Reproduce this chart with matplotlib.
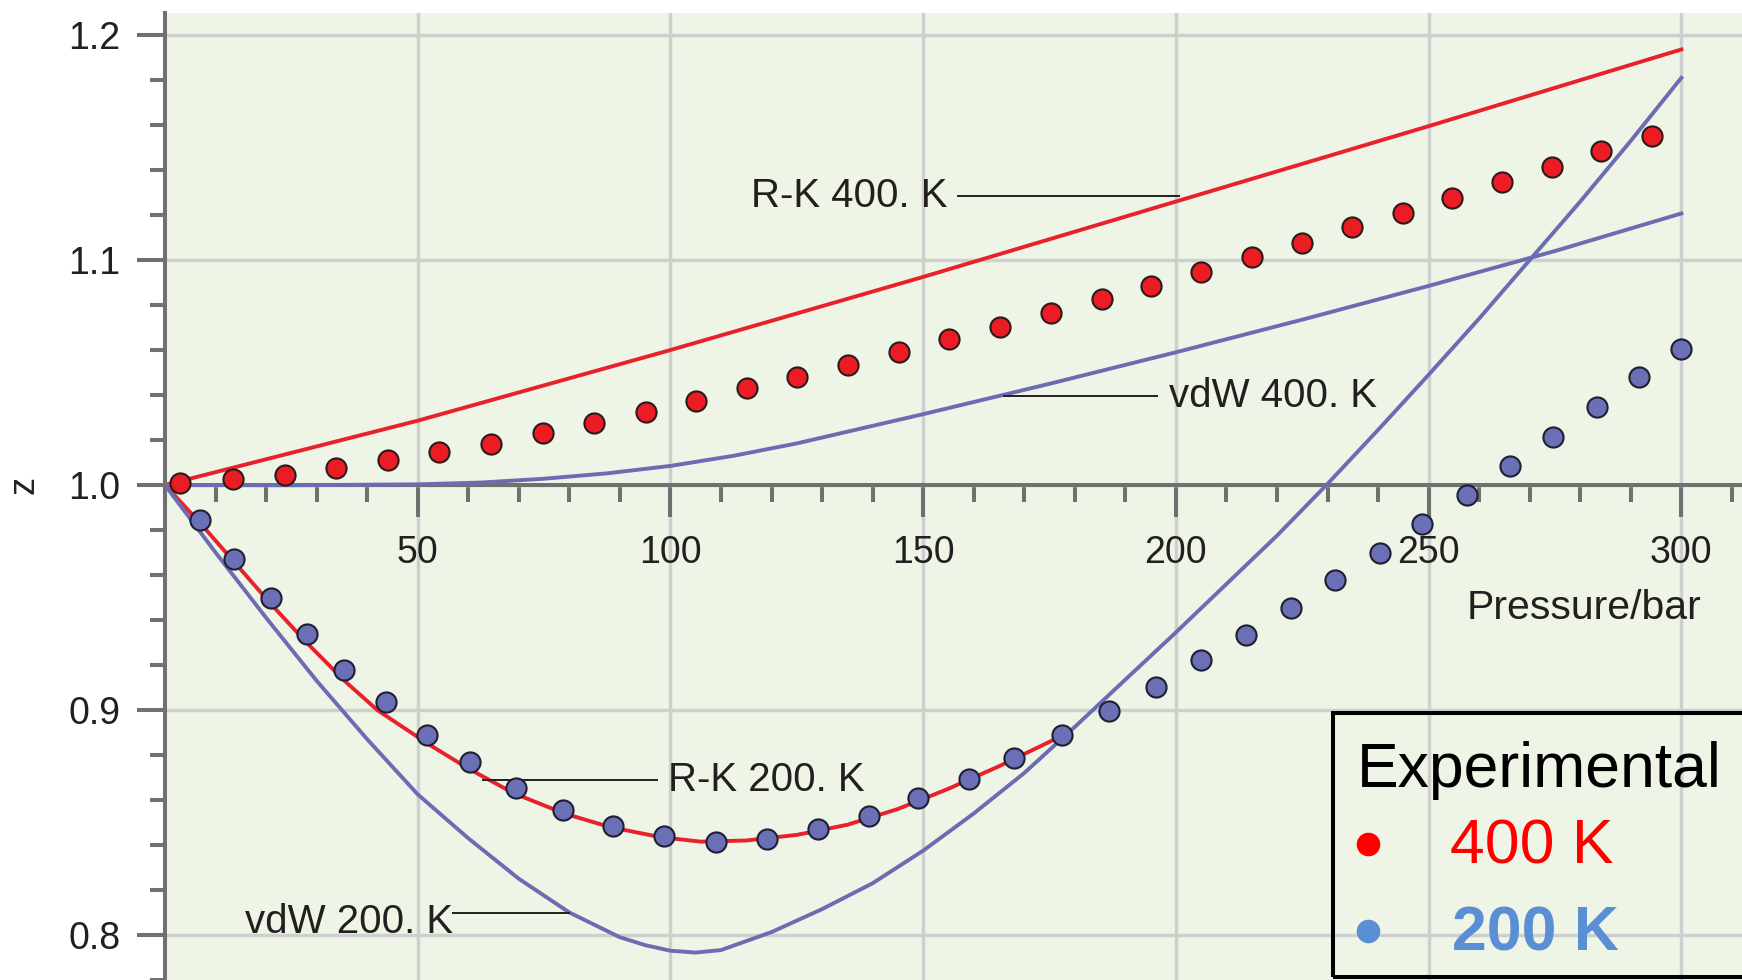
import matplotlib
matplotlib.use('Agg')
import matplotlib.pyplot as plt
from matplotlib.ticker import MultipleLocator, FixedLocator
from matplotlib.patches import Rectangle

plt.rcParams['font.family'] = ['Liberation Sans', 'DejaVu Sans']

# Experimental points (pressure in bar, compressibility z)
p_400 = [3.0, 13.4, 23.8, 33.9, 44.2, 54.3, 64.5, 74.8, 84.9, 95.1, 105.1, 115.1,
         125.1, 135.2, 145.3, 155.1, 165.2, 175.2, 185.3, 195.1, 205.0, 215.0,
         225.0, 234.9, 244.9, 254.6, 264.5, 274.4, 284.1, 294.2]
z_400 = [1.001, 1.0025, 1.0044, 1.0074, 1.0113, 1.0148, 1.0182, 1.0232, 1.0276,
         1.0325, 1.0374, 1.0430, 1.0481, 1.0533, 1.0590, 1.0648, 1.0701, 1.0766,
         1.0825, 1.0884, 1.0945, 1.1012, 1.1077, 1.1145, 1.1207, 1.1276, 1.1345,
         1.1414, 1.1483, 1.1552]

p_200 = [6.9, 13.6, 21.0, 28.0, 35.5, 43.7, 51.8, 60.3, 69.4, 78.8, 88.7, 98.7,
         109.0, 119.2, 129.2, 139.3, 149.0, 159.0, 168.0, 177.4, 186.8, 196.1,
         204.9, 213.9, 222.7, 231.5, 240.3, 248.7, 257.5, 266.1, 274.7, 283.3,
         291.6, 300.0]
z_200 = [0.9844, 0.967, 0.950, 0.9338, 0.9178, 0.9034, 0.8889, 0.8767, 0.8652,
         0.8556, 0.8484, 0.844, 0.8415, 0.8427, 0.847, 0.853, 0.8607, 0.8692,
         0.8788, 0.8889, 0.8995, 0.9103, 0.9222, 0.9335, 0.9453, 0.9576, 0.9700,
         0.9828, 0.9956, 1.0084, 1.0212, 1.0345, 1.0478, 1.0606]

# Equation of state curves
rk400_p = [0, 50, 100, 150, 200, 250, 300]
rk400_z = [1.0, 1.0286, 1.060, 1.0925, 1.126, 1.1595, 1.1936]

vdw400_p = [0, 25, 50, 62.5, 75, 87.5, 100, 112.5, 125, 150, 175, 200, 225,
            250, 275, 300]
vdw400_z = [1.0, 0.9999, 1.0003, 1.0011, 1.0028, 1.0052, 1.0085, 1.013, 1.0185,
            1.0315, 1.045, 1.059, 1.0735, 1.0885, 1.104, 1.1207]

rk200_p = [0, 7, 14, 21, 28, 35.5, 42, 52, 60, 69, 79, 88, 98, 106, 115, 125,
           135, 145, 155, 165, 176.5]
rk200_z = [1.0, 0.983, 0.965, 0.947, 0.930, 0.913, 0.900, 0.885, 0.874, 0.863,
           0.854, 0.848, 0.8435, 0.8415, 0.842, 0.8445, 0.849, 0.856, 0.865,
           0.875, 0.8875]

vdw200_p = [0, 10, 20, 30, 40, 50, 60, 70, 80, 90, 95, 100, 105, 110, 120, 130,
            140, 150, 160, 170, 180, 190, 200, 210, 220, 230, 240, 250, 260,
            270, 280, 290, 300]
vdw200_z = [1.0, 0.970, 0.941, 0.913, 0.887, 0.8625, 0.843, 0.825, 0.810, 0.799,
            0.7955, 0.793, 0.7922, 0.7933, 0.8013, 0.8115, 0.823, 0.8375, 0.854,
            0.872, 0.8925, 0.9135, 0.9345, 0.956, 0.9775, 1.0005, 1.0245, 1.049,
            1.074, 1.100, 1.126, 1.153, 1.181]

x_major = [50, 100, 150, 200, 250, 300]
y_major = [0.8, 0.9, 1.0, 1.1, 1.2]
y_labels = ['0.8', '0.9', '1.0', '1.1', '1.2']

W, H = 1742, 980
fig = plt.figure(figsize=(W / 100, H / 100), dpi=100)
ax = fig.add_axes([165 / W, 0, 1 - 165 / W, (H - 13) / H])
ax.set_facecolor('#eef5e6')
ax.set_xlim(0, 312)
ax.set_ylim(0.78, 1.2098)

red_line = '#e8212b'
blue_line = '#6b6cb2'
axis_grey = '#707070'
ink = '#231f20'

ax.plot(rk400_p, rk400_z, color=red_line, lw=2.8, zorder=3)
ax.plot(vdw400_p, vdw400_z, color=blue_line, lw=2.8, zorder=3)
ax.plot(rk200_p, rk200_z, color=red_line, lw=2.8, zorder=3)
ax.plot(vdw200_p, vdw200_z, color=blue_line, lw=2.8, zorder=3)

ax.plot(p_400, z_400, 'o', ms=14.5, mfc='#ec1c24', mec='#2b1a1a', mew=1.5, zorder=4)
ax.plot(p_200, z_200, 'o', ms=14.5, mfc='#6b6fb5', mec='#1f1f33', mew=1.5, zorder=4)

# axes styling
for s in ['top', 'right']:
    ax.spines[s].set_visible(False)
ax.spines['bottom'].set_position(('data', 1.0))
for s in ['left', 'bottom']:
    ax.spines[s].set_color(axis_grey)
    ax.spines[s].set_linewidth(2.9)

ax.xaxis.set_major_locator(FixedLocator(x_major))
ax.xaxis.set_minor_locator(MultipleLocator(10))
ax.set_yticks(y_major)
ax.set_yticklabels(y_labels)
ax.yaxis.set_minor_locator(MultipleLocator(0.02))

ax.tick_params(axis='x', which='major', length=23, width=2.9, color=axis_grey,
               labelsize=27, pad=13, labelcolor=ink)
ax.tick_params(axis='x', which='minor', length=12, width=2.9, color=axis_grey)
ax.tick_params(axis='y', which='major', length=20, width=2.9, color=axis_grey,
               labelsize=27, pad=12, labelcolor=ink)
ax.tick_params(axis='y', which='minor', length=11, width=2.9, color=axis_grey)

ax.grid(True, which='major', color='#cdd0cf', lw=2.5)
ax.set_axisbelow(True)

fig.text(24 / W, 1 - 485 / H, 'z', rotation=90, fontsize=26, color=ink,
         ha='center', va='center')
ax.text(257.5, 0.9453, 'Pressure/bar', fontsize=29.5, color=ink, ha='left', va='center')

# curve labels with leader lines
ax.text(154.9, 1.1284, 'R-K 400. K', fontsize=29, color=ink, ha='right', va='center')
ax.plot([156.9, 200.7], [1.1284, 1.1284], color=ink, lw=1.4, zorder=3)
ax.text(198.7, 1.0395, 'vdW 400. K', fontsize=29, color=ink, ha='left', va='center')
ax.plot([165.9, 196.2], [1.0397, 1.0397], color=ink, lw=1.4, zorder=3)
ax.text(99.6, 0.8689, 'R-K 200. K', fontsize=29, color=ink, ha='left', va='center')
ax.plot([63, 97.3], [0.8689, 0.8689], color=ink, lw=1.4, zorder=3)
ax.text(57, 0.806, 'vdW 200. K', fontsize=29, color=ink, ha='right', va='center')
ax.plot([57, 79.9], [0.8096, 0.8096], color=ink, lw=1.4, zorder=3)

# experimental legend box
box = Rectangle((1333 / W, 1 - 977 / H), 0.5, (977 - 713) / H, fill=False,
                edgecolor='black', lw=2.9, transform=fig.transFigure, zorder=6)
fig.add_artist(box)
fig.text(1356.7 / W, 1 - 786.7 / H, 'Experimental', fontsize=45, color='black',
         ha='left', va='baseline')
fig.text(1450 / W, 1 - 863.3 / H, '400 K', fontsize=45, color='#ff0000',
         ha='left', va='baseline')
fig.text(1451.7 / W, 1 - 950 / H, '200 K', fontsize=45, color='#5a8fd5',
         fontweight='bold', ha='left', va='baseline')
fig.add_artist(plt.Line2D([1367.7 / W], [1 - 844 / H], marker='o', ms=17,
                          color='#ff0000', mec='none', transform=fig.transFigure))
fig.add_artist(plt.Line2D([1367.7 / W], [1 - 930.7 / H], marker='o', ms=17,
                          color='#5a8fd5', mec='none', transform=fig.transFigure))

fig.savefig('out.png', dpi=100)
